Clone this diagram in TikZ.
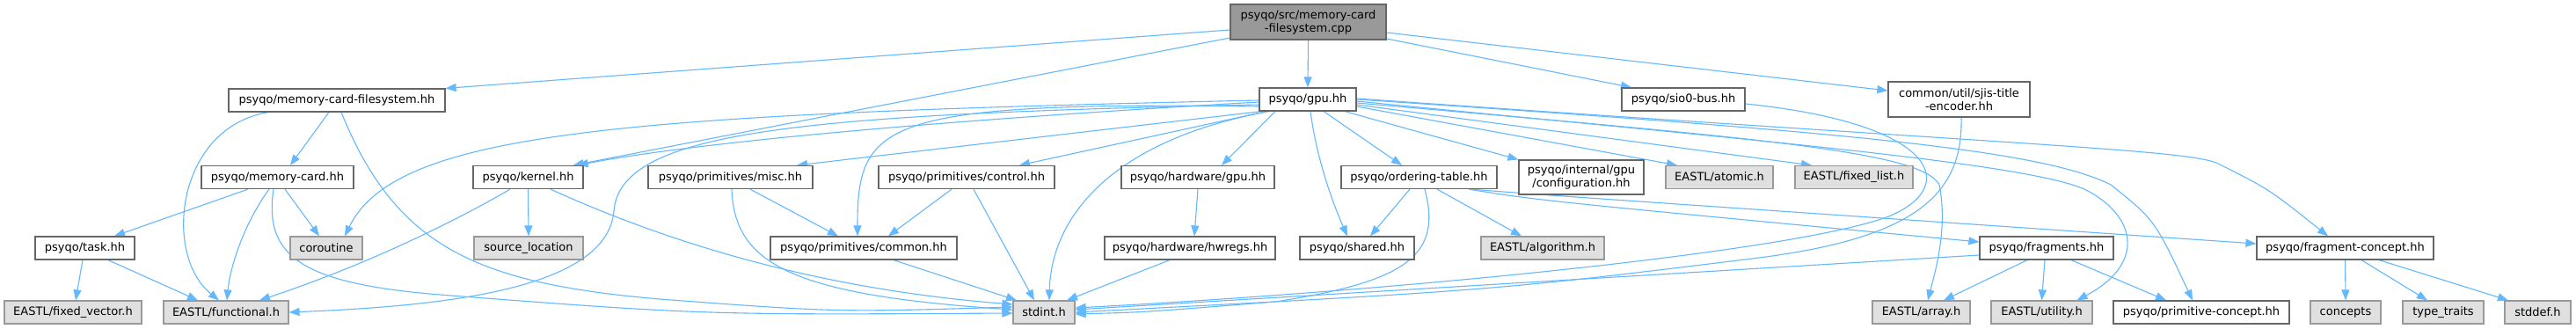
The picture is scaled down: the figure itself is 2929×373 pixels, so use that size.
\documentclass[tikz,border=0pt]{standalone}
\usepackage{fontspec}
\setmainfont{DejaVu Sans}
\usetikzlibrary{arrows.meta}
\definecolor{edgeblue}{HTML}{63B8FF}
\definecolor{dkgray}{HTML}{666666}
\definecolor{ltgray}{HTML}{999999}
\definecolor{extfill}{HTML}{E0E0E0}
\definecolor{topfill}{HTML}{999999}
\pgfdeclarelayer{bg}
\pgfsetlayers{bg,main}
\begin{document}
\begin{tikzpicture}[x=1pt,y=-1pt,
  box/.style={draw=dkgray, fill=white, line width=1.2pt, inner sep=0pt, minimum height=26pt, font=\fontsize{13}{15}\selectfont, align=center},
  ext/.style={box, draw=ltgray, fill=extfill},
  srcnode/.style={box, fill=topfill, minimum height=40pt},
  dep/.style={draw=edgeblue, line width=1.1pt, -{Triangle[length=12pt,width=9pt]}}]
\useasboundingbox (0,0) rectangle (2929,373);
% row 1
\node[srcnode, minimum width=177pt] (top) at (1487.5,25) {psyqo/src/memory-card\\-filesystem.cpp};
% row 2
\node[box, minimum width=246pt] (mcfs) at (383,114) {psyqo/memory-card-filesystem.hh};
\node[box, minimum width=110pt] (gpu) at (1487,113) {psyqo/gpu.hh};
\node[box, minimum width=140pt] (sio) at (1914,113) {psyqo/sio0-bus.hh};
\node[box, minimum width=161pt, minimum height=40pt] (sjis) at (2227.5,113) {common/util/sjis-title\\-encoder.hh};
% row 3
\node[box, minimum width=173pt] (mc) at (315.5,201.5) {psyqo/memory-card.hh};
\node[box, minimum width=125pt] (kern) at (600.5,201.5) {psyqo/kernel.hh};
\node[box, minimum width=187pt] (misc) at (830.5,201.5) {psyqo/primitives/misc.hh};
\node[box, minimum width=200pt] (ctrl) at (1099,201.5) {psyqo/primitives/control.hh};
\node[box, minimum width=174pt] (hwgpu) at (1362,201.5) {psyqo/hardware/gpu.hh};
\node[box, minimum width=177pt] (ot) at (1613.5,201.5) {psyqo/ordering-table.hh};
\node[box, minimum width=142pt, minimum height=39pt] (cfg) at (1798,201.5) {psyqo/internal/gpu\\/configuration.hh};
\node[ext, minimum width=122pt] (atom) at (1955,201.5) {EASTL/atomic.h};
\node[ext, minimum width=134pt] (flist) at (2108,201.5) {EASTL/fixed\_list.h};
% row 4
\node[box, minimum width=113pt] (task) at (96.5,282) {psyqo/task.hh};
\node[ext, minimum width=82pt] (corou) at (371,282) {coroutine};
\node[ext, minimum width=124pt] (srcloc) at (601,282) {source\_location};
\node[box, minimum width=212pt] (common) at (982,282) {psyqo/primitives/common.hh};
\node[box, minimum width=194pt] (hwregs) at (1353,282) {psyqo/hardware/hwregs.hh};
\node[box, minimum width=130pt] (shared) at (1543,282) {psyqo/shared.hh};
\node[ext, minimum width=140pt] (algo) at (1754,282) {EASTL/algorithm.h};
\node[box, minimum width=152pt] (frags) at (2327,282) {psyqo/fragments.hh};
\node[box, minimum width=201pt] (fconc) at (2666.5,282) {psyqo/fragment-concept.hh};
% row 5
\node[ext, minimum width=156pt] (fvec) at (83,355) {EASTL/fixed\_vector.h};
\node[ext, minimum width=142pt] (func) at (257,355) {EASTL/functional.h};
\node[ext, minimum width=70pt] (stdint) at (1187,355) {stdint.h};
\node[ext, minimum width=111pt] (arr) at (2184.5,355) {EASTL/array.h};
\node[ext, minimum width=115pt] (util) at (2321.5,355) {EASTL/utility.h};
\node[box, minimum width=200pt] (pconc) at (2503,355) {psyqo/primitive-concept.hh};
\node[ext, minimum width=80pt] (concepts) at (2667,355) {concepts};
\node[ext, minimum width=92pt] (ttraits) at (2778,355) {type\_traits};
\node[ext, minimum width=75pt] (stddef) at (2885.5,355) {stddef.h};

\begin{pgfonlayer}{bg}
\fill[white] (0,0) rectangle (2929,373);
% from top
\draw[dep] ([yshift=-9pt]top.west) -- (mcfs.north east);
\draw[dep] ([yshift=-18pt]top.west) -- ([xshift=-12pt]kern.north east);
\draw[dep] (top.south) -- (gpu.north);
\draw[dep] ([yshift=-19pt]top.east) -- ([xshift=-59pt]sio.north);
\draw[dep] ([yshift=-12pt]top.east) -- ([yshift=10pt]sjis.west);
% memory-card-filesystem
\draw[dep] ([xshift=-9pt]mcfs.south) -- ([xshift=14.5pt]mc.north);
\draw[dep] ([xshift=-78pt]mcfs.south) .. controls (200,145) and (185,290) .. ([xshift=-8pt]func.north);
\draw[dep] ([xshift=5pt]mcfs.south) .. controls (450,280) and (540,322) .. (750,340) .. controls (950,355) .. ([yshift=6pt]stdint.west);
% memory-card
\draw[dep] ([xshift=-33.5pt]mc.south) -- ([xshift=33.5pt]task.north);
\draw[dep] ([xshift=8.5pt]mc.south) -- ([xshift=-8pt]corou.north);
\draw[dep] ([xshift=-9.5pt]mc.south) .. controls (280,250) and (262,300) .. ([xshift=1pt]func.north);
\draw[dep] ([xshift=-4.5pt]mc.south) .. controls (300,290) and (340,322) .. (500,335) .. controls (800,358) .. ([yshift=-1pt]stdint.west);
% task
\draw[dep] ([xshift=-2.5pt]task.south) -- ([xshift=3pt]fvec.north);
\draw[dep] ([xshift=26.5pt]task.south) -- ([xshift=-32pt]func.north);
% kernel
\draw[dep] (kern.south) -- (srcloc.north);
\draw[dep] ([xshift=-20.5pt]kern.south) .. controls (520,250) and (420,300) .. ([xshift=38pt]func.north);
\draw[dep] ([xshift=25.5pt]kern.south) .. controls (780,285) and (950,330) .. ([yshift=9pt]stdint.west);
% gpu
\draw[dep] ([yshift=-3pt]gpu.west) .. controls (1100,135) and (800,160) .. ([xshift=-7pt]kern.north east);
\draw[dep] ([yshift=-1pt]gpu.west) .. controls (700,130) and (450,150) .. ([xshift=21pt]corou.north);
\draw[dep] ([yshift=-6pt]gpu.west) .. controls (900,130) and (705,150) .. (698,240) .. controls (690,330) and (500,348) .. (func.east);
\draw[dep] ([xshift=-53pt]gpu.south) -- ([xshift=75.5pt]misc.north);
\draw[dep] ([yshift=-8pt]gpu.west) .. controls (1000,115) and (975,140) .. ([xshift=-7pt]common.north);
\draw[dep] ([xshift=-47pt]gpu.south) -- ([xshift=60pt]ctrl.north);
\draw[dep] ([xshift=-37pt]gpu.south) -- ([xshift=27pt]hwgpu.north);
\draw[dep] ([xshift=-44pt]gpu.south) .. controls (1260,160) and (1195,250) .. ([xshift=6pt]stdint.north);
\draw[dep] ([xshift=3pt]gpu.south) .. controls (1497,180) and (1515,230) .. ([xshift=-11pt]shared.north);
\draw[dep] ([xshift=18pt]gpu.south) -- ([xshift=-19.5pt]ot.north);
\draw[dep] ([xshift=42pt]gpu.south) -- (cfg.north west);
\draw[dep] ([yshift=-8pt]gpu.east) -- ([xshift=-48pt]atom.north);
\draw[dep] ([yshift=-6pt]gpu.east) -- ([xshift=-48pt]flist.north);
\draw[dep] ([yshift=-4pt]gpu.east) .. controls (2000,157) and (2185,172) .. (2205,210) .. controls (2215,260) and (2200,310) .. ([xshift=7.5pt]arr.north);
\draw[dep] ([yshift=-2pt]gpu.east) .. controls (2000,160) and (2300,185) .. (2370,215) .. controls (2430,245) and (2440,300) .. ([xshift=40pt]util.north);
\draw[dep] (gpu.east) .. controls (2100,150) and (2320,170) .. (2400,210) .. controls (2450,250) .. ([xshift=-10pt]pconc.north);
\draw[dep] ([yshift=1pt]gpu.east) .. controls (2300,165) and (2480,170) .. (2520,185) .. controls (2580,215) .. ([xshift=-19.5pt]fconc.north);
% ordering-table
\draw[dep] ([xshift=-10.5pt]ot.south) -- ([xshift=15pt]shared.north);
\draw[dep] ([xshift=6.5pt]ot.south) .. controls (1640,290) and (1600,320) .. (1450,343) .. controls (1300,355) .. ([yshift=-2pt]stdint.east);
\draw[dep] ([xshift=20.5pt]ot.south) -- ([xshift=-24pt]algo.north);
\draw[dep] ([xshift=56.5pt]ot.south) .. controls (1750,228) .. ([yshift=7pt]frags.west);
\draw[dep] ([xshift=58.5pt]ot.south) .. controls (1760,222) .. ([yshift=5pt]fconc.west);
% fragments
\draw[dep] ([yshift=-8pt]frags.west) -- ([yshift=3pt]stdint.east);
\draw[dep] ([xshift=-22pt]frags.south) -- ([xshift=25.5pt]arr.north);
\draw[dep] ([xshift=-2pt]frags.south) -- (util.north);
\draw[dep] ([xshift=28pt]frags.south) -- ([xshift=-40pt]pconc.north);
% fragment-concept
\draw[dep] (fconc.south) -- (concepts.north);
\draw[dep] ([xshift=18.5pt]fconc.south) -- ([xshift=-18pt]ttraits.north);
\draw[dep] ([xshift=38.5pt]fconc.south) -- ([xshift=-33.5pt]stddef.north);
% primitives
\draw[dep] ([xshift=22.5pt]misc.south) -- ([xshift=-29pt]common.north);
\draw[dep] ([xshift=1.5pt]misc.south) .. controls (835,300) and (900,335) .. ([yshift=3pt]stdint.west);
\draw[dep] ([xshift=-17pt]ctrl.south) -- ([xshift=28pt]common.north);
\draw[dep] ([xshift=8pt]ctrl.south) -- ([xshift=-11pt]stdint.north);
\draw[dep] ([xshift=34pt]common.south) -- ([xshift=-31pt]stdint.north);
% hardware
\draw[dep] (hwgpu.south) -- ([xshift=5pt]hwregs.north);
\draw[dep] ([xshift=-23pt]hwregs.south) -- ([xshift=26pt]stdint.north);
% sio0 and sjis
\draw[dep] ([yshift=-5pt]sio.east) .. controls (2200,140) and (2230,210) .. (2150,245) .. controls (2050,285) and (1600,330) .. ([yshift=5pt]stdint.east);
\draw[dep] ([xshift=2.5pt]sjis.south) .. controls (2232,220) and (2180,270) .. (2000,293) .. controls (1700,330) .. ([yshift=0pt]stdint.east);
\end{pgfonlayer}
\end{tikzpicture}
\end{document}
